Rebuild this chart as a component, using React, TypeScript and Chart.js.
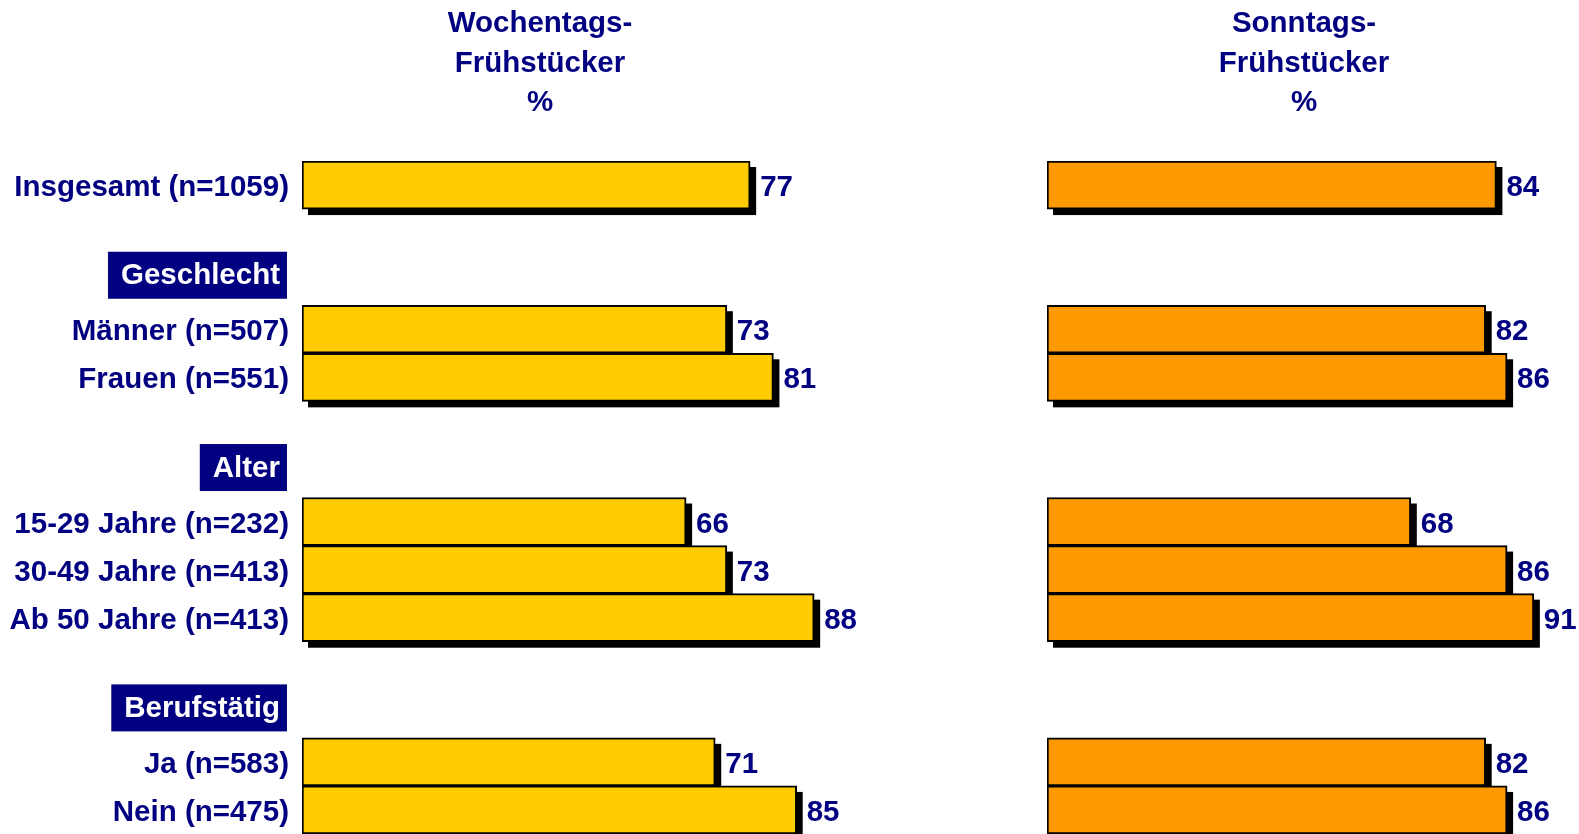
import React, { useEffect, useRef } from 'react';
import { Chart, registerables } from 'chart.js';

Chart.register(...registerables);

const FONT = '"Liberation Sans", Arial, sans-serif';
const NAVY = '#000080';
const FS = 29.5;

const rowLabels = [
  'Insgesamt (n=1059)', '', '',
  'Männer (n=507)', 'Frauen (n=551)', '', '',
  '15-29 Jahre (n=232)', '30-49 Jahre (n=413)', 'Ab 50 Jahre (n=413)', '', '',
  'Ja (n=583)', 'Nein (n=475)',
];
const weekdayValues = [77, null, null, 73, 81, null, null, 66, 73, 88, null, null, 71, 85];
const sundayValues = [84, null, null, 82, 86, null, null, 68, 86, 91, null, null, 82, 86];
const groupHeaders = ['Geschlecht', 'Alter', 'Berufstätig'];
const groupFirstRows = [3, 7, 12];
const weekdayTitle = ['Wochentags-', 'Frühstücker', '%'];
const sundayTitle = ['Sonntags-', 'Frühstücker', '%'];

const fontStr = (size: number) => `bold ${size}px ${FONT}`;

function barRects(chart: any) {
  const meta = chart.getDatasetMeta(0);
  const vals = chart.data.datasets[0].data;
  const out: any[] = [];
  meta.data.forEach((el: any, i: number) => {
    if (vals[i] == null) return;
    const p = el.getProps(['x', 'y', 'base', 'height'], true);
    out.push({ ...p, value: vals[i] });
  });
  return out;
}

const barShadow = {
  id: 'barShadow',
  beforeDatasetsDraw(chart: any) {
    const ctx = chart.ctx;
    ctx.save();
    ctx.fillStyle = '#000';
    barRects(chart).forEach((r) => {
      ctx.fillRect(Math.min(r.x, r.base) + 6, r.y - r.height / 2 + 6, Math.abs(r.x - r.base), r.height);
    });
    ctx.restore();
  },
};

const valueLabels = {
  id: 'valueLabels',
  afterDatasetsDraw(chart: any) {
    const ctx = chart.ctx;
    ctx.save();
    ctx.fillStyle = NAVY;
    ctx.font = fontStr(FS);
    ctx.textAlign = 'left';
    ctx.textBaseline = 'middle';
    barRects(chart).forEach((r) => {
      ctx.fillText(String(r.value), r.x + 10, r.y + 3);
    });
    ctx.restore();
  },
};

function titlePlugin(lines: string[], cx: number) {
  return {
    id: 'panelTitle',
    afterDraw(chart: any) {
      const ctx = chart.ctx;
      ctx.save();
      ctx.fillStyle = NAVY;
      ctx.font = fontStr(FS);
      ctx.textAlign = 'center';
      ctx.textBaseline = 'alphabetic';
      lines.forEach((t, i) => ctx.fillText(t, cx, 32 + i * 39.5));
      ctx.restore();
    },
  };
}

const headerPlugin = {
  id: 'groupHeaders',
  afterDraw(chart: any) {
    const ctx = chart.ctx;
    const ys = chart.scales.y;
    ctx.save();
    ctx.font = fontStr(FS);
    groupHeaders.forEach((h, i) => {
      const cy = ys.getPixelForValue(groupFirstRows[i]) - 54;
      const w = ctx.measureText(h).width;
      const textRight = 280;
      const x0 = textRight - w - 13;
      ctx.fillStyle = NAVY;
      ctx.fillRect(x0, cy - 23.5, 287 - x0, 47);
      ctx.fillStyle = '#fff';
      ctx.textAlign = 'right';
      ctx.textBaseline = 'middle';
      ctx.fillText(h, textRight, cy + 1);
    });
    ctx.restore();
  },
};

function makeConfig(values: (number | null)[], color: string, showLabels: boolean, title: string[], titleX: number, padLeft: number, padRight: number, extra: any[]): any {
  const yAxis: any = {
    display: showLabels,
    grid: { display: false, drawTicks: false },
    border: { display: false },
    ticks: {
      autoSkip: false,
      color: NAVY,
      padding: 13,
      labelOffset: 3,
      font: { family: FONT, size: FS, weight: 'bold' },
    },
  };
  if (showLabels) {
    yAxis.afterFit = (s: any) => {
      s.width = 302;
      s.paddingTop = 0;
      s.paddingBottom = 0;
    };
  }
  return {
    type: 'bar',
    data: {
      labels: rowLabels,
      datasets: [{
        data: values,
        backgroundColor: color,
        borderColor: '#000',
        borderWidth: 2,
        borderSkipped: false,
        barPercentage: 1,
        categoryPercentage: 1,
      }],
    },
    options: {
      indexAxis: 'y',
      responsive: false,
      animation: false,
      devicePixelRatio: 1,
      layout: { autoPadding: false, padding: { top: 161, left: padLeft, right: padRight, bottom: 0 } },
      plugins: { legend: { display: false }, tooltip: { enabled: false }, title: { display: false } },
      scales: {
        x: { display: false, min: 0, max: 100 },
        y: yAxis,
      },
    },
    plugins: [barShadow, valueLabels, titlePlugin(title, titleX), ...extra],
  };
}

export default function App() {
  const leftRef = useRef<HTMLCanvasElement>(null);
  const rightRef = useRef<HTMLCanvasElement>(null);
  useEffect(() => {
    const left = new Chart(leftRef.current as HTMLCanvasElement,
      makeConfig(weekdayValues, '#FFCC00', true, weekdayTitle, 540, 0, 56, [headerPlugin]));
    const right = new Chart(rightRef.current as HTMLCanvasElement,
      makeConfig(sundayValues, '#FF9900', false, sundayTitle, 1304 - 940, 107, 0, []));
    return () => { left.destroy(); right.destroy(); };
  }, []);
  return (
    <div style={{ position: 'fixed', left: 0, top: 0, width: 1579, height: 834, overflow: 'hidden', background: '#fff' }}>
      <canvas ref={leftRef} width={940} height={834} style={{ position: 'absolute', left: 0, top: 0, width: 940, height: 834 }} />
      <canvas ref={rightRef} width={642} height={834} style={{ position: 'absolute', left: 940, top: 0, width: 642, height: 834 }} />
    </div>
  );
}
